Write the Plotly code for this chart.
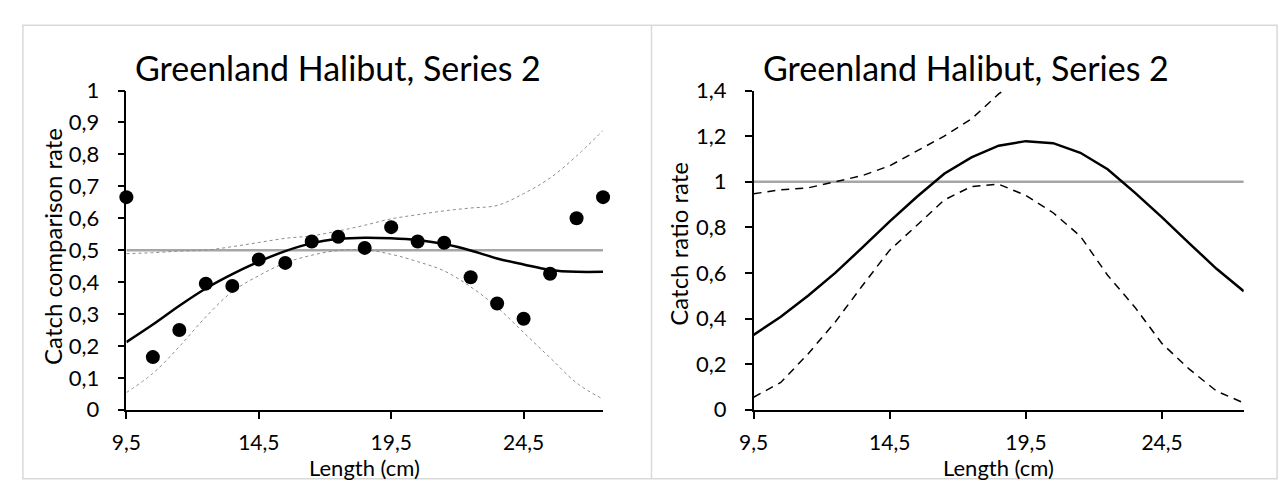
import plotly.graph_objects as go

W, H = 1284, 487

length = [9.5, 10.5, 11.5, 12.5, 13.5, 14.5, 15.5, 16.5, 17.5, 18.5,
          19.5, 20.5, 21.5, 22.5, 23.5, 24.5, 25.5, 26.5, 27.5]

# Left panel: catch comparison rate
observed = [0.666, 0.165, 0.25, 0.395, 0.388, 0.471, 0.46, 0.527, 0.542, 0.507,
            0.572, 0.527, 0.523, 0.415, 0.333, 0.285, 0.426, 0.60, 0.666]
cc_fit = [0.212, 0.267, 0.326, 0.38, 0.425, 0.464, 0.497, 0.522, 0.535, 0.539,
          0.537, 0.531, 0.519, 0.499, 0.474, 0.455, 0.438, 0.432, 0.432]
cc_upper = [0.489, 0.492, 0.497, 0.50, 0.511, 0.524, 0.537, 0.545, 0.56, 0.578,
            0.598, 0.611, 0.623, 0.632, 0.64, 0.677, 0.726, 0.795, 0.875]
cc_lower = [0.054, 0.114, 0.198, 0.291, 0.37, 0.42, 0.46, 0.484, 0.499, 0.501,
            0.487, 0.464, 0.435, 0.385, 0.321, 0.242, 0.163, 0.084, 0.033]
cc_ref = 0.5

# Right panel: catch ratio rate
cr_fit = [0.328, 0.408, 0.50, 0.60, 0.712, 0.826, 0.934, 1.035, 1.107, 1.158,
          1.178, 1.169, 1.127, 1.055, 0.952, 0.844, 0.73, 0.618, 0.52]
cr_upper = [0.947, 0.965, 0.973, 1.0, 1.027, 1.07, 1.135, 1.2, 1.275, 1.385,
            1.47, None, None, None, None, None, None, None, None]
cr_lower = [0.055, 0.12, 0.245, 0.385, 0.545, 0.70, 0.809, 0.92, 0.979, 0.989,
            0.94, 0.864, 0.761, 0.59, 0.45, 0.29, 0.178, 0.082, 0.03]
cr_ref = 1.0

x_ticks = [9.5, 14.5, 19.5, 24.5]
x_ticktext = ["9,5", "14,5", "19,5", "24,5"]
left_yticks = [i / 10 for i in range(11)]
left_yticktext = ["0"] + ["0," + str(i) for i in range(1, 10)] + ["1"]
right_yticks = [0, 0.2, 0.4, 0.6, 0.8, 1.0, 1.2, 1.4]
right_yticktext = ["0", "0,2", "0,4", "0,6", "0,8", "1", "1,2", "1,4"]

title_text = "Greenland Halibut, Series 2"
left_ytitle = "Catch comparison rate"
right_ytitle = "Catch ratio rate"
xtitle = "Length (cm)"

FONT = "Lato"
GREY = "#A6A6A6"

fig = go.Figure()

# Left panel traces
fig.add_trace(go.Scatter(x=[length[0], length[-1]], y=[cc_ref, cc_ref], mode="lines",
                         line=dict(color=GREY, width=2.5), xaxis="x", yaxis="y"))
fig.add_trace(go.Scatter(x=length, y=cc_upper, mode="lines", line_shape="spline",
                         line=dict(color="#8C8C8C", width=1, dash="dot"), xaxis="x", yaxis="y"))
fig.add_trace(go.Scatter(x=length, y=cc_lower, mode="lines", line_shape="spline",
                         line=dict(color="#8C8C8C", width=1, dash="dot"), xaxis="x", yaxis="y"))
fig.add_trace(go.Scatter(x=length, y=cc_fit, mode="lines", line_shape="spline",
                         line=dict(color="black", width=2.5), xaxis="x", yaxis="y"))
fig.add_trace(go.Scatter(x=length, y=observed, mode="markers", cliponaxis=False,
                         marker=dict(color="black", size=14), xaxis="x", yaxis="y"))

# Right panel traces
fig.add_trace(go.Scatter(x=[length[0], length[-1]], y=[cr_ref, cr_ref], mode="lines",
                         line=dict(color=GREY, width=2.5), xaxis="x2", yaxis="y2"))
fig.add_trace(go.Scatter(x=length, y=cr_upper, mode="lines",
                         line=dict(color="black", width=1.5, dash="8px,6px"), xaxis="x2", yaxis="y2"))
fig.add_trace(go.Scatter(x=length, y=cr_lower, mode="lines",
                         line=dict(color="black", width=1.5, dash="8px,6px"), xaxis="x2", yaxis="y2"))
fig.add_trace(go.Scatter(x=length, y=cr_fit, mode="lines",
                         line=dict(color="black", width=2.5), xaxis="x2", yaxis="y2"))

ydom = [1 - 419 / H, 1 - 81 / H]
xtickfont = dict(family=FONT, size=21, color="black")
ytickfont = dict(family=FONT, size=22, color="black")

common_x = dict(range=[9.5, 27.5], tickvals=x_ticks, ticktext=x_ticktext, showgrid=False,
                zeroline=False, showline=True, linecolor="black", linewidth=2,
                ticks="outside", ticklen=7, tickwidth=1.5, tickcolor="black",
                tickfont=xtickfont, ticklabelstandoff=6)
common_y = dict(showgrid=False, zeroline=False, showline=True, linecolor="black", linewidth=1.5,
                ticks="outside", ticklen=7, tickwidth=1.5, tickcolor="black",
                tickfont=ytickfont, ticklabelstandoff=14)

fig.update_layout(
    width=W, height=H, margin=dict(l=0, r=0, t=0, b=0),
    paper_bgcolor="white", plot_bgcolor="white", showlegend=False,
    xaxis=dict(common_x, domain=[112.7 / W, 595 / W], anchor="y"),
    yaxis=dict(common_y, domain=ydom, range=[0, 1], tickvals=left_yticks,
               ticktext=left_yticktext, anchor="x"),
    xaxis2=dict(common_x, domain=[747.3 / W, 1243.3 / W], anchor="y2"),
    yaxis2=dict(common_y, domain=ydom, range=[0, 1.4], tickvals=right_yticks,
                ticktext=right_yticktext, anchor="x2"),
)

def px(x):
    return x / W

def py(y):
    return 1 - y / H

annos = [
    dict(text=title_text, x=px(327), y=py(57), size=34),
    dict(text=title_text, x=px(962), y=py(57), size=34),
    dict(text=xtitle, x=px(354), y=py(480), size=22),
    dict(text=xtitle, x=px(995), y=py(480), size=22),
    dict(text=left_ytitle, x=px(38), y=py(246), size=24, angle=-90),
    dict(text=right_ytitle, x=px(671), y=py(243), size=24, angle=-90),
]
for a in annos:
    fig.add_annotation(text=a["text"], x=a["x"], y=a["y"], xref="paper", yref="paper",
                       xanchor="center", yanchor="middle", showarrow=False,
                       textangle=a.get("angle", 0),
                       font=dict(family=FONT, size=a["size"], color="black"))

# chart frames
fig.add_shape(type="rect", xref="paper", yref="paper", x0=px(8), x1=px(1277),
              y0=py(492), y1=py(12), line=dict(color="#D9D9D9", width=1.5))
fig.add_shape(type="line", xref="paper", yref="paper", x0=px(644), x1=px(644),
              y0=py(492), y1=py(12), line=dict(color="#D9D9D9", width=1.5))

fig.write_html("out.html")
